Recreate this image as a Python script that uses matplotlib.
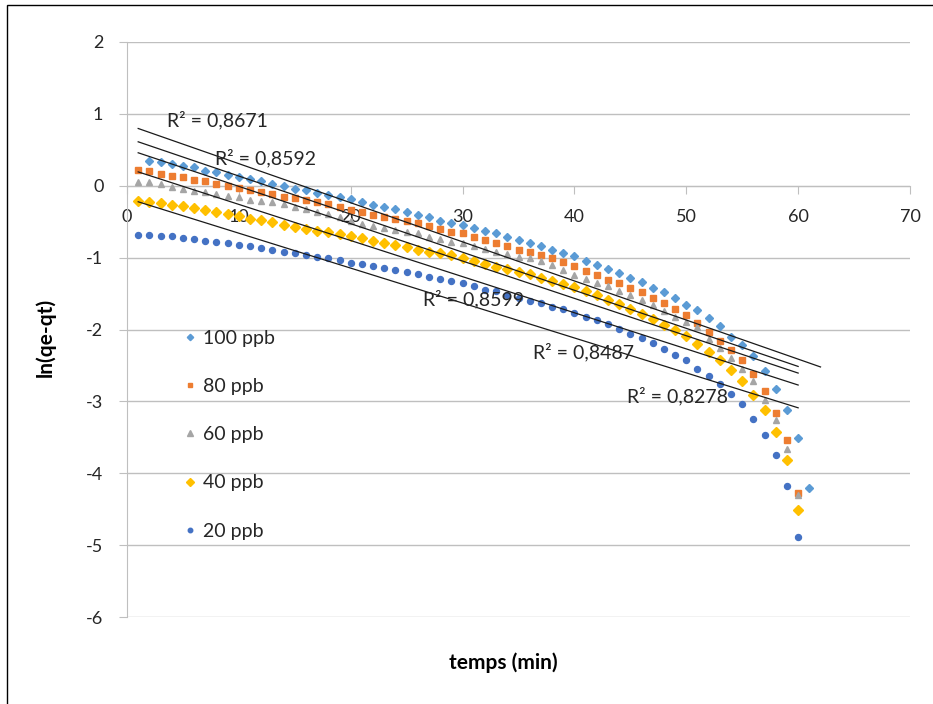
import numpy as np
import matplotlib
matplotlib.use("Agg")
import matplotlib.pyplot as plt
from matplotlib.patches import Rectangle
from matplotlib.lines import Line2D

plt.rcParams['font.family'] = ['Lato', 'DejaVu Sans']
plt.rcParams['axes.unicode_minus'] = False

# Sampling times (min)
t_100 = [2, 3, 4, 5, 6, 7, 8, 9, 10, 11, 12, 13, 14, 15, 16, 17, 18, 19, 20, 21,
         22, 23, 24, 25, 26, 27, 28, 29, 30, 31, 32, 33, 34, 35, 36, 37, 38, 39, 40, 41,
         42, 43, 44, 45, 46, 47, 48, 49, 50, 51, 52, 53, 54, 55, 56, 57, 58, 59, 60, 61]
t_std = [1, 2, 3, 4, 5, 6, 7, 8, 9, 10, 11, 12, 13, 14, 15, 16, 17, 18, 19, 20,
         21, 22, 23, 24, 25, 26, 27, 28, 29, 30, 31, 32, 33, 34, 35, 36, 37, 38, 39, 40,
         41, 42, 43, 44, 45, 46, 47, 48, 49, 50, 51, 52, 53, 54, 55, 56, 57, 58, 59, 60]

# ln(qe - qt) for each initial concentration
ln_100 = [0.35, 0.33, 0.30, 0.28, 0.255, 0.21, 0.185, 0.15, 0.115, 0.09,
          0.06, 0.025, -0.01, -0.045, -0.06, -0.095, -0.13, -0.16, -0.185, -0.23,
          -0.27, -0.30, -0.33, -0.36, -0.40, -0.44, -0.485, -0.52, -0.545, -0.59,
          -0.625, -0.66, -0.71, -0.755, -0.80, -0.845, -0.89, -0.94, -0.98, -1.05,
          -1.10, -1.155, -1.21, -1.28, -1.345, -1.42, -1.48, -1.565, -1.655, -1.735,
          -1.84, -1.945, -2.105, -2.22, -2.375, -2.58, -2.825, -3.115, -3.505, -4.21]
ln_80 = [0.22, 0.20, 0.16, 0.14, 0.115, 0.08, 0.06, 0.025, -0.01, -0.035,
         -0.06, -0.08, -0.115, -0.15, -0.175, -0.20, -0.23, -0.255, -0.30, -0.335,
         -0.37, -0.40, -0.43, -0.46, -0.485, -0.52, -0.555, -0.595, -0.64, -0.66,
         -0.71, -0.75, -0.795, -0.845, -0.89, -0.925, -0.965, -1.01, -1.06, -1.11,
         -1.18, -1.235, -1.305, -1.35, -1.425, -1.48, -1.56, -1.635, -1.715, -1.795,
         -1.905, -2.035, -2.16, -2.29, -2.43, -2.615, -2.855, -3.16, -3.54, -4.28]
ln_60 = [0.055, 0.055, 0.02, -0.015, -0.04, -0.07, -0.085, -0.115, -0.14, -0.16,
         -0.195, -0.21, -0.23, -0.26, -0.29, -0.325, -0.36, -0.39, -0.43, -0.49,
         -0.53, -0.565, -0.59, -0.615, -0.64, -0.66, -0.715, -0.74, -0.78, -0.80,
         -0.845, -0.88, -0.915, -0.95, -0.985, -1.01, -1.045, -1.10, -1.17, -1.235,
         -1.295, -1.355, -1.40, -1.465, -1.525, -1.585, -1.665, -1.745, -1.82, -1.895,
         -1.97, -2.13, -2.26, -2.39, -2.545, -2.72, -2.975, -3.265, -3.665, -4.305]
ln_40 = [-0.21, -0.22, -0.24, -0.265, -0.285, -0.315, -0.34, -0.36, -0.395, -0.415,
         -0.46, -0.47, -0.50, -0.54, -0.57, -0.595, -0.625, -0.65, -0.67, -0.695,
         -0.73, -0.765, -0.795, -0.82, -0.855, -0.89, -0.915, -0.935, -0.97, -1.01,
         -1.05, -1.09, -1.135, -1.165, -1.205, -1.23, -1.28, -1.33, -1.365, -1.41,
         -1.47, -1.525, -1.585, -1.645, -1.71, -1.78, -1.86, -1.935, -2.00, -2.095,
         -2.20, -2.31, -2.43, -2.57, -2.72, -2.915, -3.125, -3.425, -3.82, -4.505]
ln_20 = [-0.685, -0.685, -0.695, -0.705, -0.725, -0.74, -0.765, -0.785, -0.80, -0.825,
         -0.845, -0.87, -0.895, -0.925, -0.94, -0.965, -0.985, -1.005, -1.03, -1.07,
         -1.095, -1.12, -1.15, -1.17, -1.195, -1.225, -1.27, -1.295, -1.33, -1.355,
         -1.40, -1.445, -1.47, -1.52, -1.56, -1.60, -1.635, -1.68, -1.72, -1.77,
         -1.83, -1.865, -1.92, -1.99, -2.06, -2.12, -2.19, -2.27, -2.35, -2.43,
         -2.545, -2.65, -2.755, -2.895, -3.04, -3.24, -3.47, -3.75, -4.175, -4.885]

labels = ["100 ppb", "80 ppb", "60 ppb", "40 ppb", "20 ppb"]
times = [t_100, t_std, t_std, t_std, t_std]
values = [ln_100, ln_80, ln_60, ln_40, ln_20]
# x-range covered by each linear trendline
trend_from = [1, 1, 1, 1, 1]
trend_to = [62, 60, 60, 60, 60]

# Coefficients of determination shown on the chart, with their anchor (t, ln)
r2_text = ["0,8671", "0,8592", "0,8599", "0,8487", "0,8278"]
r2_t = [3.6, 7.9, 26.5, 36.3, 44.7]
r2_y = [0.91, 0.39, -1.58, -2.32, -2.93]

colors = ['#5B9BD5', '#ED7D31', '#A5A5A5', '#FFC000', '#4472C4']
markers = ['D', 's', '^', 'D', 'o']
msizes = [4.3, 4.5, 5.0, 5.2, 4.3]

fig = plt.figure(figsize=(9.33, 7.04), dpi=100)
ax = fig.add_axes([127 / 933, 87 / 704, 783 / 933, 575 / 704])

grid_c = '#bfbfbf'
text_c = '#262626'

handles = []
for lab, t, y, c, m, s, t0, t1 in zip(labels, times, values, colors, markers,
                                       msizes, trend_from, trend_to):
    ax.plot(t, y, linestyle='none', marker=m, ms=s, color=c, mec=c, zorder=3)
    slope, icpt = np.polyfit(t, y, 1)
    tx = np.array([t0, t1])
    ax.plot(tx, slope * tx + icpt, color='#1a1a1a', lw=0.9, zorder=4)
    handles.append(Line2D([], [], linestyle='none', marker=m, ms=s * 0.75,
                          color=c, mec=c, label=lab))

for txt, tx, ty in zip(r2_text, r2_t, r2_y):
    ax.text(tx, ty, "R² = " + txt, fontsize=14, color=text_c,
            ha='left', va='center', zorder=5)

ax.set_xlim(0, 70)
ax.set_ylim(-6, 2)
ax.set_xticks(range(0, 71, 10))
ax.set_yticks(range(-6, 3))
ax.grid(axis='y', color=grid_c, lw=1)
ax.set_axisbelow(True)

for side in ('top', 'right'):
    ax.spines[side].set_visible(False)
ax.spines['left'].set_color(grid_c)
ax.spines['bottom'].set_color(grid_c)
ax.spines['bottom'].set_position(('data', 0))

ax.tick_params(axis='x', direction='out', length=6, color=grid_c, pad=11,
               labelsize=13, labelcolor=text_c)
ax.tick_params(axis='y', direction='out', length=6, color=grid_c, pad=11,
               labelsize=13, labelcolor=text_c)

ax.legend(handles=handles, frameon=False, loc='upper left',
          bbox_to_anchor=(0.0715, 0.499), fontsize=14, labelspacing=1.6,
          handlelength=0.7, handletextpad=0.35, borderpad=0, borderaxespad=0,
          labelcolor=text_c)

fig.text(45 / 933, 1 - 337 / 704, "ln(qe-qt)", rotation=90, ha='center',
         va='center', fontsize=15, fontweight='bold', color='black')
fig.text(503 / 933, 1 - 663 / 704, "temps (min)", ha='center', va='center',
         fontsize=15, fontweight='bold', color='black')

fig.patches.append(Rectangle((7 / 933, -0.05), 1.0, 1.05 - 5 / 704,
                             transform=fig.transFigure, fill=False,
                             ec='black', lw=1))

fig.savefig("out.png", dpi=100)
